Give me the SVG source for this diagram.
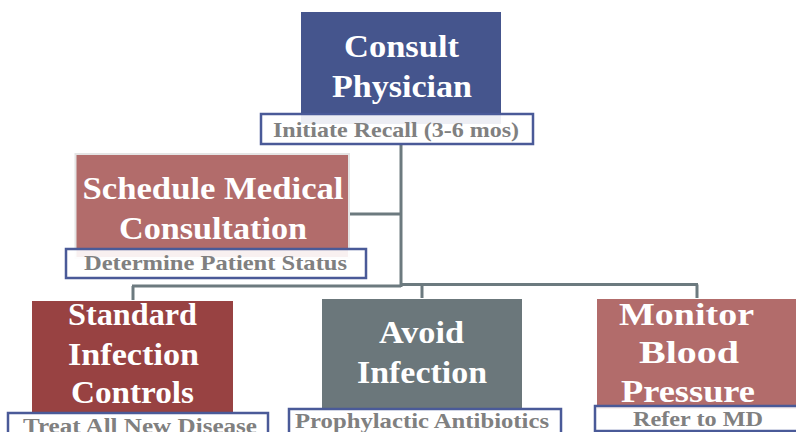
<svg xmlns="http://www.w3.org/2000/svg" width="796" height="432" viewBox="0 0 796 432">
<style>
.conn{stroke:#6c7a7f;stroke-width:3;fill:none}
.t{font-family:"Liberation Serif","Times New Roman",serif;font-weight:bold;fill:#ffffff;font-size:32px;text-anchor:middle}
.lb{fill:#ffffff;fill-opacity:0.9;stroke:#4a5a98;stroke-width:2.5}
.lt{font-family:"Liberation Serif","Times New Roman",serif;font-weight:bold;fill:#808080;font-size:22px;text-anchor:middle}
</style>
<rect width="796" height="432" fill="#ffffff"/>
<g id="connectors">
<path class="conn" d="M401 144 V287"/>
<path class="conn" d="M349 214 H401"/>
<path class="conn" d="M132 286 H401"/>
<path class="conn" d="M133 286 V300"/>
<path class="conn" d="M401 284.5 H698"/>
<path class="conn" d="M422 284.5 V298"/>
<path class="conn" d="M697 284.5 V298"/>
</g>
<g id="consult">
<rect x="301" y="12" width="200" height="112" fill="#45558d"/>
<text class="t" x="401.5" y="57" textLength="115" lengthAdjust="spacingAndGlyphs">Consult</text>
<text class="t" x="402" y="97" textLength="140" lengthAdjust="spacingAndGlyphs">Physician</text>
<rect class="lb" x="261" y="114" width="272" height="30"/>
<text class="lt" x="396" y="137" textLength="246" lengthAdjust="spacingAndGlyphs">Initiate Recall (3-6 mos)</text>
</g>
<g id="schedule">
<rect x="75.5" y="154" width="273.5" height="104" fill="#b26c6b" stroke="#e4e4e4" stroke-width="2"/>
<text class="t" x="213" y="199" textLength="261" lengthAdjust="spacingAndGlyphs">Schedule Medical</text>
<text class="t" x="213" y="239" textLength="188" lengthAdjust="spacingAndGlyphs">Consultation</text>
<rect class="lb" x="66" y="249" width="300" height="29"/>
<text class="lt" x="215.5" y="270" textLength="263" lengthAdjust="spacingAndGlyphs">Determine Patient Status</text>
</g>
<g id="standard">
<rect x="32" y="301" width="201" height="112" fill="#984242"/>
<text class="t" x="132.5" y="325" textLength="129" lengthAdjust="spacingAndGlyphs">Standard</text>
<text class="t" x="133.5" y="365" textLength="131" lengthAdjust="spacingAndGlyphs">Infection</text>
<text class="t" x="132.5" y="403" textLength="123" lengthAdjust="spacingAndGlyphs">Controls</text>
<rect class="lb" x="8" y="413" width="260" height="30"/>
<text class="lt" x="140" y="433" textLength="234" lengthAdjust="spacingAndGlyphs">Treat All New Disease</text>
</g>
<g id="avoid">
<rect x="322" y="299" width="200" height="111" fill="#6b777b"/>
<text class="t" x="421.5" y="343" textLength="85" lengthAdjust="spacingAndGlyphs">Avoid</text>
<text class="t" x="422" y="383" textLength="130" lengthAdjust="spacingAndGlyphs">Infection</text>
<rect class="lb" x="289" y="409" width="272" height="30"/>
<text class="lt" x="422" y="428" textLength="254" lengthAdjust="spacingAndGlyphs">Prophylactic Antibiotics</text>
</g>
<g id="monitor">
<rect x="597" y="299" width="202" height="110" fill="#b26c6b"/>
<text class="t" x="686.5" y="325" textLength="135" lengthAdjust="spacingAndGlyphs">Monitor</text>
<text class="t" x="689" y="363" textLength="100" lengthAdjust="spacingAndGlyphs">Blood</text>
<text class="t" x="688" y="402" textLength="134" lengthAdjust="spacingAndGlyphs">Pressure</text>
<rect class="lb" x="595" y="406" width="205" height="25"/>
<text class="lt" x="698" y="426" textLength="130" lengthAdjust="spacingAndGlyphs">Refer to MD</text>
</g>
</svg>
